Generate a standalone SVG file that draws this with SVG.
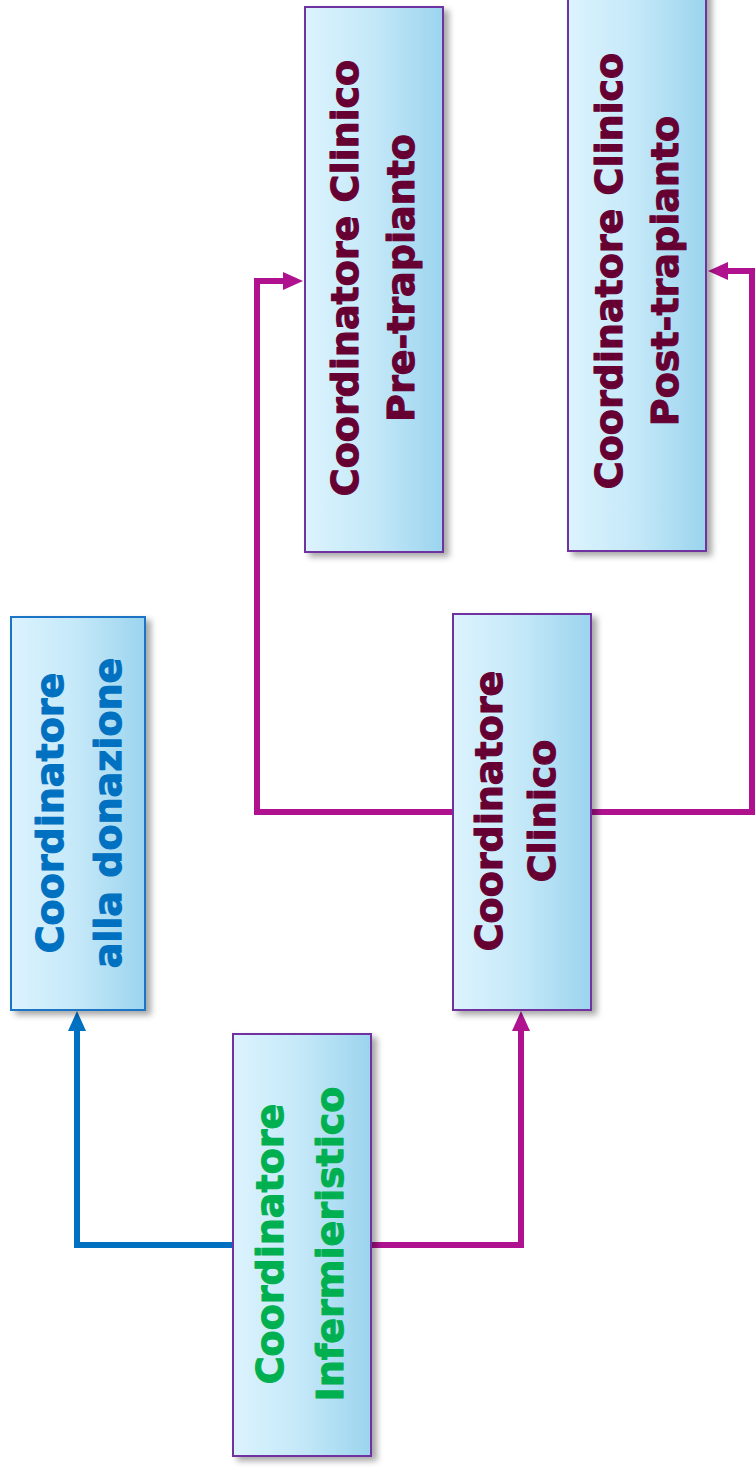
<svg xmlns="http://www.w3.org/2000/svg" width="755" height="1470" viewBox="0 0 755 1470">
<defs>
<linearGradient id="fillg" x1="0" y1="0" x2="1" y2="0">
<stop offset="0" stop-color="#DCF3FE"/>
<stop offset="0.5" stop-color="#C4E8F8"/>
<stop offset="1" stop-color="#9BD4EE"/>
</linearGradient>
<filter id="shadow" x="-20%" y="-10%" width="150%" height="130%">
<feDropShadow dx="5" dy="4" stdDeviation="3" flood-color="#000" flood-opacity="0.35"/>
</filter>
</defs>
<style>
.box{fill:url(#fillg);stroke-width:2;filter:url(#shadow)}
.bBlue{stroke:#1F74C4}
.bPurp{stroke:#7030A0}
.t{font-family:"DejaVu Sans","Verdana",sans-serif;font-weight:bold;font-size:38px;text-anchor:middle;stroke-width:1.1;stroke-linejoin:round}
.tBlue{fill:#0070C0;stroke:#0070C0}
.tGreen{fill:#00B050;stroke:#00B050}
.tMar{fill:#660033;stroke:#660033}
.c{fill:none;stroke-width:6;stroke-linejoin:miter}
.cBlue{stroke:#0070C0}
.cMag{stroke:#B0128F}
.hBlue{fill:#0070C0}
.hMag{fill:#B0128F}
</style>
<g id="connectors">
<path class="c cBlue" d="M233,1245 H77 V1028"/>
<polygon class="hBlue" points="77,1011 68,1031 86,1031"/>
<path class="c cMag" d="M371,1245 H521 V1028"/>
<polygon class="hMag" points="521,1011 512,1031 530,1031"/>
<path class="c cMag" d="M453,812 H257 V281 H286"/>
<polygon class="hMag" points="303,281 283,272 283,290"/>
<path class="c cMag" d="M591,812 H752 V271 H725"/>
<polygon class="hMag" points="708,271 728,262 728,280"/>
</g>
<g id="node-donazione">
<rect class="box bBlue" x="11" y="617" width="134" height="393"/>
<g transform="translate(0,813) rotate(-90)">
<text class="t tBlue" x="0" y="63">Coordinatore</text>
<text class="t tBlue" x="0" y="121">alla donazione</text>
</g>
</g>
<g id="node-infermieristico">
<rect class="box bPurp" x="233" y="1034" width="138" height="422"/>
<g transform="translate(0,1244) rotate(-90)">
<text class="t tGreen" x="0" y="283">Coordinatore</text>
<text class="t tGreen" x="0" y="343">Infermieristico</text>
</g>
</g>
<g id="node-clinico">
<rect class="box bPurp" x="453" y="614" width="138" height="396"/>
<g transform="translate(0,811) rotate(-90)">
<text class="t tMar" x="0" y="502">Coordinatore</text>
<text class="t tMar" x="0" y="555">Clinico</text>
</g>
</g>
<g id="node-pre">
<rect class="box bPurp" x="305" y="7" width="138" height="545"/>
<g transform="translate(0,278) rotate(-90)">
<text class="t tMar" x="0" y="358">Coordinatore Clinico</text>
<text class="t tMar" x="0" y="414">Pre-trapianto</text>
</g>
</g>
<g id="node-post">
<rect class="box bPurp" x="568" y="-10" width="138" height="561"/>
<g transform="translate(0,271) rotate(-90)">
<text class="t tMar" x="0" y="622">Coordinatore Clinico</text>
<text class="t tMar" x="0" y="678">Post-trapianto</text>
</g>
</g>
</svg>
